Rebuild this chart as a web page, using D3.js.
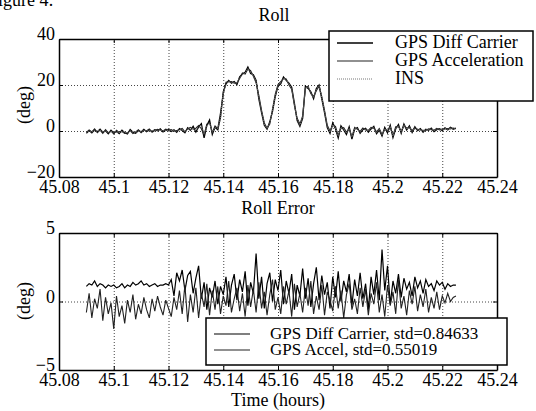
<!DOCTYPE html>
<html>
<head>
<meta charset="utf-8">
<script src="https://cdn.jsdelivr.net/npm/d3@7"></script>
<style>
  body { margin: 0; background: #fff; }
  svg { display: block; font-family: "Liberation Serif", "DejaVu Serif", serif; }
  .axis path, .axis line { stroke: #000; }
  .axis text { font-size: 18px; fill: #000; }
  .grid line { stroke: #444; stroke-dasharray: 1,2; }
  .grid path { display: none; }
</style>
</head>
<body>
<div id="chart"></div>
<script>
// x grid: one sample every 0.001 h
var timeHours = d3.range(136).map(function(i) { return 45.09 + i * 0.001; });

var xTickValues = [45.08, 45.1, 45.12, 45.14, 45.16, 45.18, 45.2, 45.22, 45.24];
var rollTicks = [-20, 0, 20, 40];
var errTicks = [-5, 0, 5];

var rollLegend = ['GPS Diff Carrier', 'GPS Acceleration', 'INS'];
var errLegend = ['GPS Diff Carrier, std=0.84633', 'GPS Accel, std=0.55019'];

var rollDiffCarrier = [
  -1.0, 0.2, -0.8, 0.5, -0.3, 0.8, -0.6, 0.1, -1.2, 0.3,
  -0.9, -0.2, -1.1, 0.4, -0.7, -1.3, 0.6, -0.5, -1.0, 0.2,
  -0.4, 0.7, -0.3, 0.5, -0.2, 0.6, 0.1, 0.9, -0.4, 0.3,
  0.8, -0.2, 0.5, -0.6, 1.0, 0.2, -0.8, 1.4, 0.3, 2.0,
  -0.5, 1.8, 3.2, -3.0, 2.4, 4.8, -1.5, 1.6, 0.5, 6.0,
  17.0, 20.5, 22.0, 20.8, 21.5, 20.2, 23.5, 24.8, 25.5, 27.8,
  25.0, 24.5, 22.0, 14.0, 8.0, 2.5, 0.8, 4.0, 8.5, 15.0,
  19.5, 20.5, 23.5, 22.0, 20.8, 19.0, 12.0, 4.5, 2.0, 5.5,
  19.5, 18.5, 17.0, 14.0, 18.5, 20.0, 14.0, 8.0, 1.5, -1.0,
  3.5, 1.0, -3.0, 2.2, 0.5, -1.5, 1.8, -3.5, 0.8, 1.5,
  -1.0, 0.6, 1.2, -0.5, 0.9, 2.0, -1.2, 0.4, -2.2, 1.5,
  -0.8, 2.5, -2.8, 1.0, 2.8, -1.0, 3.0, 0.5, 2.2, -0.6,
  1.8, 0.2, 1.0, -0.5, 0.8, 0.3, 1.2, -0.3, 0.6, 1.0,
  0.2, 1.4, 0.5, 1.6, 0.8, 1.2
];

var rollAccel = [
  -0.6, 0.5, -0.4, 0.9, -0.7, 0.4, -1.0, 0.6, -0.8, -0.1,
  -1.3, 0.3, -0.6, -0.2, -1.0, -0.8, 0.2, -1.1, -0.4, 0.5,
  -0.8, 0.3, 0.1, 0.9, -0.6, 0.2, 0.7, 0.4, 0.0, 0.8,
  0.3, 0.6, -0.1, 0.2, 0.5, 1.1, -0.4, 0.9, 1.6, 0.8,
  1.2, 2.4, 1.0, -1.8, 3.0, 3.6, -0.6, 2.2, 1.0, 8.0,
  16.0, 21.2, 21.4, 21.5, 20.8, 21.0, 22.8, 25.2, 24.8, 27.0,
  26.2, 23.8, 21.0, 15.5, 9.0, 3.5, 1.2, 3.0, 9.5, 16.0,
  20.2, 21.5, 22.8, 22.6, 20.0, 18.2, 11.0, 5.5, 3.0, 6.5,
  18.5, 19.5, 16.2, 15.0, 17.5, 19.5, 15.0, 9.0, 2.5, 0.0,
  2.5, 2.0, -2.0, 1.2, 1.5, -0.5, 0.8, -2.5, 1.6, 0.7,
  -0.2, 1.3, 0.4, 0.3, 1.6, 1.2, -0.4, 1.1, -1.5, 0.7,
  0.2, 1.8, -2.0, 1.8, 2.0, -0.2, 2.4, 1.2, 1.5, 0.2,
  1.2, 0.8, 0.4, 0.3, 0.2, 0.9, 0.6, 0.3, 1.1, 0.5,
  0.8, 0.9, 1.1, 0.9, 1.3, 1.0
];

var rollINS = [
  -0.5, -0.2, -0.4, 0.1, 0.0, 0.3, -0.2, -0.1, -0.6, -0.2,
  -0.5, -0.4, -0.7, -0.2, -0.5, -0.8, 0.0, -0.3, -0.6, -0.1,
  -0.2, 0.3, 0.0, 0.2, 0.1, 0.3, 0.2, 0.5, 0.0, 0.2,
  0.5, 0.1, 0.3, -0.2, 0.6, 0.3, -0.3, 0.9, 0.5, 1.3,
  0.2, 1.4, 2.2, -1.2, 2.0, 3.5, -0.5, 1.5, 1.0, 5.5,
  16.5, 20.0, 21.5, 21.0, 21.0, 20.8, 23.0, 24.5, 25.2, 27.2,
  25.5, 24.0, 21.5, 14.5, 8.5, 3.0, 1.0, 3.5, 9.0, 15.5,
  19.8, 21.0, 23.0, 22.2, 20.5, 18.6, 11.5, 5.0, 2.5, 6.0,
  19.0, 19.0, 16.5, 14.5, 18.0, 19.8, 14.5, 8.5, 2.0, -0.5,
  2.8, 1.5, -2.2, 1.6, 0.8, -1.0, 1.2, -2.6, 1.0, 1.0,
  -0.6, 0.9, 0.8, -0.1, 1.2, 1.5, -0.8, 0.7, -1.6, 1.0,
  -0.3, 2.0, -2.2, 1.4, 2.3, -0.6, 2.6, 0.8, 1.8, -0.2,
  1.4, 0.5, 0.7, -0.1, 0.5, 0.6, 0.9, 0.1, 0.8, 0.8,
  0.5, 1.1, 0.7, 1.3, 0.8, 1.0
];

var errDiffCarrier = [
  1.1, 1.3, 1.2, 1.5, 1.1, 1.3, 1.2, 1.0, 1.2, 1.1,
  1.2, 1.0, 1.1, 1.3, 1.0, 1.2, 1.1, 1.4, 1.2, 1.3,
  1.5, 1.2, 1.3, 1.1, 1.2, 1.3, 1.1, 1.2, 1.2, 1.3,
  1.2, 1.6, 0.4, 2.1, 1.5, 2.3, 0.8, 1.9, 2.2, 0.6,
  1.7, 2.6, 0.2, 1.4, -0.6, 1.0, 0.3, 1.5, -0.2, 1.1,
  0.5, 1.8, -0.4, 1.2, 2.0, 0.1, 1.6, 0.7, 2.2, -0.3,
  1.4, 0.6, 3.5, 0.2, 1.8, -0.5, 1.3, 2.1, 0.0, 1.6,
  0.8, 2.3, -0.2, 1.5, 0.6, 2.0, -0.6, 1.2, 0.4, 2.4,
  0.2, 1.7, -0.4, 1.3, 2.5, 0.1, 1.9, 0.5, 1.4, -0.5,
  1.8, 0.3, 2.2, 0.0, 1.5, 0.7, 2.0, -0.3, 1.6, 0.4,
  2.1, 0.2, 1.3, -0.6, 1.8, 0.5, 2.3, 0.1, 3.8, 0.8,
  2.6, -0.2, 1.5, 0.6, 2.0, 0.3, 1.7, 0.9, 1.4, 0.4,
  1.8, 1.0, 1.5, 0.6, 1.6, 1.1, 1.3, 0.8, 1.5, 1.2,
  1.4, 0.9, 1.3, 1.1, 1.2, 1.2
];

var errAccel = [
  -0.8, 0.6, -1.2, 0.2, -0.5, 0.9, -1.4, 0.3, -0.9, -0.1,
  -2.0, 0.4, -1.1, -0.3, -1.6, 0.1, -0.8, 0.5, -1.3, -0.2,
  -0.9, 0.3, -0.6, -1.2, 0.2, -0.7, 0.4, -0.4, -1.0, 0.1,
  -0.5, -1.1, 0.3, -0.6, 0.8, -0.9, 1.2, -1.5, 0.5, -0.8,
  1.0, -1.2, 0.6, -0.4, 1.3, -1.0, 0.8, -0.6, 1.1, -0.9,
  0.4, -0.3, 1.5, -0.8, 0.2, 1.0, -0.7, 0.6, -1.1, 1.2,
  -0.4, 0.9, -0.8, 1.4, -0.5, 0.7, -1.0, 0.5, 1.6, -0.6,
  0.3, -0.9, 1.1, -0.2, 0.8, -1.1, 1.3, -0.4, 0.6, -0.8,
  1.0, -0.3, 1.5, -0.9, 0.4, -0.6, 1.2, -1.0, 0.7, 0.1,
  -0.7, 1.1, -0.5, 0.8, -1.2, 0.5, 1.3, -0.6, 0.2, -0.9,
  1.0, -0.4, 0.9, -1.0, 0.6, -0.2, 1.4, -0.8, 0.5, -1.1,
  1.2, -0.3, 0.7, -0.9, 1.6, -0.5, 0.4, -1.0, 0.8, -0.2,
  1.1, -0.7, 0.5, -0.4, 0.9, -0.8, 0.3, -0.5, 0.7, -0.6,
  0.4, -0.1, 0.6, 0.0, 0.3, 0.4
];

var width = 536, height = 411;
var serif = '"Liberation Serif", "DejaVu Serif", serif';
var svg = d3.select('#chart').append('svg')
  .attr('width', width)
  .attr('height', height);

var x = d3.scaleLinear().domain([45.08, 45.24]).range([59, 497]);
var fmt = function(d) { return String(+d.toFixed(2)); };

function serifAxis(a) {
  a.attr('font-family', serif).attr('font-size', 18);
  a.select('.domain').attr('stroke-width', 1.5);
}

function drawPanel(opts) {
  var y = d3.scaleLinear().domain(opts.domain).range([opts.bottom, opts.top]);
  var g = svg.append('g');

  // dotted grid
  g.append('g').attr('class', 'grid')
    .attr('transform', 'translate(0,' + opts.bottom + ')')
    .call(d3.axisBottom(x).tickValues(xTickValues.slice(1, -1))
      .tickSize(-(opts.bottom - opts.top)).tickFormat(''));
  g.append('g').attr('class', 'grid')
    .attr('transform', 'translate(59,0)')
    .call(d3.axisLeft(y).tickValues(opts.ticks.slice(1, -1))
      .tickSize(-(497 - 59)).tickFormat(''));

  var line = d3.line()
    .x(function(d, i) { return x(timeHours[i]); })
    .y(function(d) { return y(d); });

  opts.series.forEach(function(s) {
    g.append('path')
      .datum(s.values)
      .attr('fill', 'none')
      .attr('stroke', s.color)
      .attr('stroke-width', s.width)
      .attr('stroke-dasharray', s.dash || null)
      .attr('d', line);
  });

  // axes
  g.append('g').attr('class', 'axis')
    .attr('transform', 'translate(0,' + opts.bottom + ')')
    .call(d3.axisBottom(x).tickValues(xTickValues).tickSizeInner(-4).tickSizeOuter(0)
      .tickPadding(3).tickFormat(fmt))
    .call(serifAxis);
  g.append('g').attr('class', 'axis')
    .attr('transform', 'translate(0,' + opts.top + ')')
    .call(d3.axisTop(x).tickValues(xTickValues).tickSizeInner(-4).tickSizeOuter(0).tickFormat(''))
    .call(serifAxis);
  g.append('g').attr('class', 'axis')
    .attr('transform', 'translate(59,0)')
    .call(d3.axisLeft(y).tickValues(opts.ticks).tickSizeInner(-4).tickSizeOuter(0)
      .tickPadding(4))
    .call(serifAxis)
    .call(function(a) { a.selectAll('text').attr('dy', '0.05em'); });
  g.append('g').attr('class', 'axis')
    .attr('transform', 'translate(497,0)')
    .call(d3.axisRight(y).tickValues(opts.ticks).tickSizeInner(-4).tickSizeOuter(0).tickFormat(''))
    .call(serifAxis);

  // y label
  svg.append('text')
    .attr('transform', 'translate(30,' + opts.labelY + ') rotate(-90)')
    .attr('text-anchor', 'middle')
    .style('font-size', '18px')
    .text('(deg)');

  // title
  svg.append('text')
    .attr('x', opts.titleX).attr('y', opts.titleY)
    .attr('text-anchor', 'middle')
    .style('font-size', '18px')
    .text(opts.title);

  // legend
  var L = opts.legend;
  var lg = svg.append('g');
  lg.append('rect')
    .attr('x', L.x).attr('y', L.y).attr('width', L.w).attr('height', L.h)
    .attr('fill', '#fff').attr('stroke', '#000').attr('stroke-width', 1.5);
  L.labels.forEach(function(lab, i) {
    var by = L.firstBase + i * L.step;
    var s = opts.series[i];
    lg.append('line')
      .attr('x1', L.x + 8).attr('x2', L.x + 44)
      .attr('y1', by - 5).attr('y2', by - 5)
      .attr('stroke', s.color).attr('stroke-width', s.width)
      .attr('stroke-dasharray', s.dash || null);
    lg.append('text')
      .attr('x', L.textX).attr('y', by)
      .style('font-size', L.size + 'px')
      .text(lab);
  });
}

svg.append('text')
  .attr('x', -12).attr('y', 6)
  .style('font-size', '18px')
  .text('Figure 4:');

drawPanel({
  top: 39, bottom: 177, domain: [-20, 40], ticks: rollTicks,
  title: 'Roll', titleX: 274, titleY: 21, labelY: 105,
  series: [
    { values: rollDiffCarrier, color: '#000', width: 1.3 },
    { values: rollAccel, color: '#222', width: 1.1 },
    { values: rollINS, color: '#777', width: 1, dash: '1,1' }
  ],
  legend: { x: 329, y: 31, w: 204, h: 70, textX: 395, firstBase: 48, step: 18, size: 18, labels: rollLegend }
});

drawPanel({
  top: 233, bottom: 370, domain: [-5, 5], ticks: errTicks,
  title: 'Roll Error', titleX: 278, titleY: 214, labelY: 301,
  series: [
    { values: errDiffCarrier, color: '#000', width: 1.2 },
    { values: errAccel, color: '#222', width: 1.1 }
  ],
  legend: { x: 206, y: 318, w: 301, h: 47, textX: 270, firstBase: 339, step: 16, size: 17, labels: errLegend }
});

svg.append('text')
  .attr('x', 278).attr('y', 406)
  .attr('text-anchor', 'middle')
  .style('font-size', '18px')
  .text('Time (hours)');
</script>
</body>
</html>
